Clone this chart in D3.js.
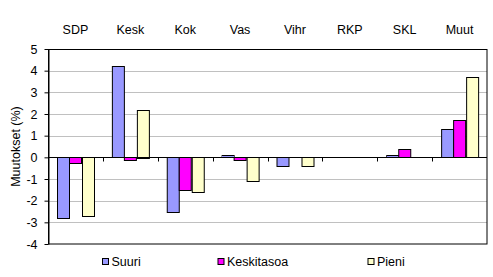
<!DOCTYPE html>
<html>
<head>
<meta charset="utf-8">
<script src="https://cdn.jsdelivr.net/npm/d3@7"></script>
<style>
  body { margin: 0; background: #fff; }
  svg { display: block; font-family: Arial, "Liberation Sans", sans-serif; }
</style>
</head>
<body>
<div id="chart"></div>
<script>
const categories = ['SDP', 'Kesk', 'Kok', 'Vas', 'Vihr', 'RKP', 'SKL', 'Muut']
const series = ['Suuri', 'Keskitasoa', 'Pieni']
const suuri = [-2.8, 4.2, -2.55, 0.1, -0.4, 0, 0.1, 1.3]
const keskitasoa = [-0.3, -0.15, -1.5, -0.15, 0, 0, 0.37, 1.72]
const pieni = [-2.7, 2.2, -1.6, -1.1, -0.4, 0, 0, 3.7]
const yTicks = [-4, -3, -2, -1, 0, 1, 2, 3, 4, 5]
const colors = ['#9999ff', '#ff00ff', '#ffffcc']

const dimensions = {
  width: 493,
  height: 277,
  margins: { top: 49, right: 6, bottom: 33, left: 48 },
}
dimensions.ctrWidth = dimensions.width - dimensions.margins.left - dimensions.margins.right
dimensions.ctrHeight = dimensions.height - dimensions.margins.top - dimensions.margins.bottom

const values = [suuri, keskitasoa, pieni]
const data = categories.map((c, i) => ({
  category: c,
  bars: series.map((s, j) => ({ series: s, value: values[j][i], color: colors[j] })),
}))

const svg = d3.select('#chart')
  .append('svg')
  .attr('width', dimensions.width)
  .attr('height', dimensions.height)

const ctr = svg.append('g')
  .attr('transform', `translate(${dimensions.margins.left}, ${dimensions.margins.top})`)

const x0 = d3.scaleBand()
  .domain(categories)
  .range([0, dimensions.ctrWidth])

const x1 = d3.scaleBand()
  .domain(series)
  .range([0, x0.bandwidth()])
  .paddingOuter(0.7)

const yScale = d3.scaleLinear()
  .domain([-4, 5])
  .range([dimensions.ctrHeight, 0])

// gridlines
ctr.append('g')
  .selectAll('line')
  .data(yTicks.filter(d => d !== 0 && d !== 5 && d !== -4))
  .join('line')
  .attr('x1', 0)
  .attr('x2', dimensions.ctrWidth)
  .attr('y1', d => Math.round(yScale(d)) + 0.5)
  .attr('y2', d => Math.round(yScale(d)) + 0.5)
  .attr('stroke', '#c0c0c0')

// plot frame
ctr.append('rect')
  .attr('x', 0.5)
  .attr('y', 0.5)
  .attr('width', dimensions.ctrWidth - 0.5)
  .attr('height', dimensions.ctrHeight - 0.5)
  .attr('fill', 'none')
  .attr('stroke', '#000')

// bars
ctr.selectAll('g.cat')
  .data(data)
  .join('g')
  .attr('class', 'cat')
  .attr('transform', d => `translate(${x0(d.category)}, 0)`)
  .selectAll('rect')
  .data(d => d.bars.filter(b => b.value !== 0))
  .join('rect')
  .attr('x', d => Math.round(x1(d.series)) + 0.5)
  .attr('y', d => Math.round(yScale(Math.max(0, d.value))) + 0.5)
  .attr('width', Math.round(x1.bandwidth()))
  .attr('height', d => Math.max(1, Math.round(Math.abs(yScale(d.value) - yScale(0)))))
  .attr('fill', d => d.color)
  .attr('stroke', '#000')

// zero line with category ticks
const zeroY = Math.round(yScale(0)) + 0.5
ctr.append('line')
  .attr('x1', 0)
  .attr('x2', dimensions.ctrWidth)
  .attr('y1', zeroY)
  .attr('y2', zeroY)
  .attr('stroke', '#000')

ctr.append('g')
  .selectAll('line')
  .data(categories.slice(1))
  .join('line')
  .attr('x1', d => Math.round(x0(d)) + 0.5)
  .attr('x2', d => Math.round(x0(d)) + 0.5)
  .attr('y1', zeroY)
  .attr('y2', zeroY + 4)
  .attr('stroke', '#000')

// y axis
const yAxis = d3.axisLeft(yScale)
  .tickValues(yTicks)
  .tickSizeInner(4)
  .tickSizeOuter(0)
  .tickPadding(7)
  .tickFormat(d => String(d))

const yAxisGroup = ctr.append('g')
  .attr('transform', 'translate(0.5, 0)')
  .call(yAxis)
yAxisGroup.select('.domain').attr('stroke', '#000')
yAxisGroup.selectAll('.tick line').attr('stroke', '#000')
yAxisGroup.selectAll('.tick text')
  .attr('fill', '#000')
  .style('font-size', '12.5px')
  .style('font-family', 'Arial, "Liberation Sans", sans-serif')

svg.append('text')
  .attr('transform', `translate(20, ${dimensions.margins.top + dimensions.ctrHeight / 2}) rotate(-90)`)
  .attr('text-anchor', 'middle')
  .style('font-size', '12.5px')
  .text('Muutokset (%)')

// category labels on top
svg.append('g')
  .selectAll('text')
  .data(categories)
  .join('text')
  .attr('x', d => dimensions.margins.left + x0(d) + x0.bandwidth() / 2)
  .attr('y', 34)
  .attr('text-anchor', 'middle')
  .style('font-size', '12.5px')
  .text(d => d)

// legend
const legendX = [102, 217.5, 367.5]
const legend = svg.append('g')
  .selectAll('g')
  .data(series)
  .join('g')
  .attr('transform', (d, i) => `translate(${legendX[i]}, 258)`)

legend.append('rect')
  .attr('x', 0.5)
  .attr('y', 0.5)
  .attr('width', 6)
  .attr('height', 6)
  .attr('fill', (d, i) => colors[i])
  .attr('stroke', '#000')

legend.append('text')
  .attr('x', 9.5)
  .attr('y', 8)
  .style('font-size', '12.5px')
  .text(d => d)
</script>
</body>
</html>
